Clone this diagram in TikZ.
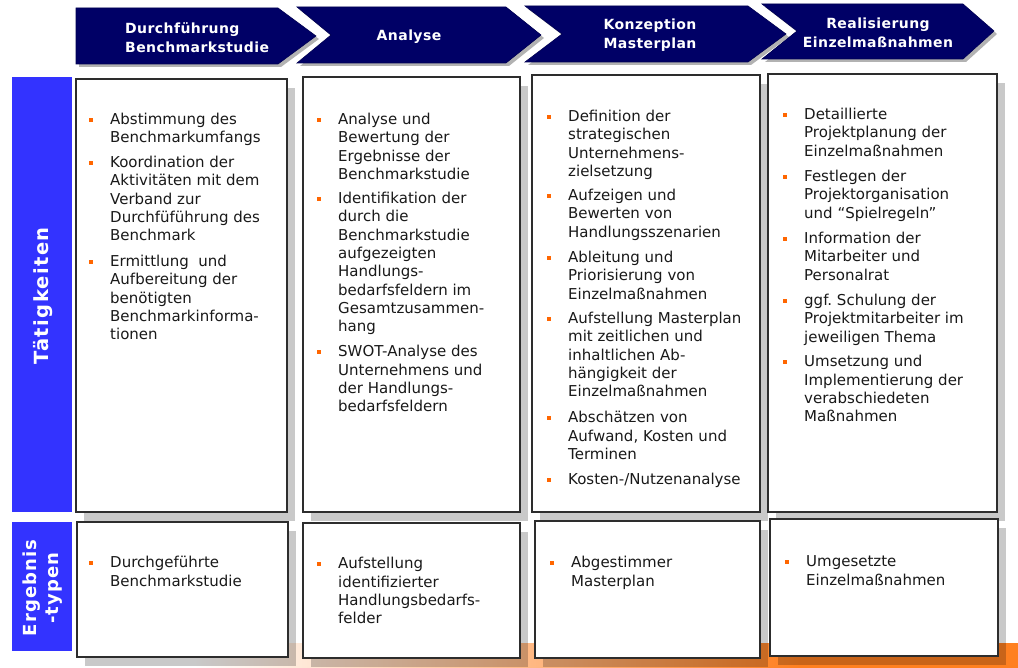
\documentclass[tikz,border=0pt]{standalone}
\usepackage{fontspec}
\setmainfont{DejaVu Sans}
\usetikzlibrary{shadows}
\definecolor{navy}{RGB}{0,0,102}
\definecolor{sideblue}{RGB}{51,51,255}
\definecolor{bul}{RGB}{255,102,0}
\definecolor{band}{RGB}{255,128,32}
\definecolor{boxline}{RGB}{45,45,45}
\newcommand\bl{\rule{0pt}{13pt}\llap{\textcolor{bul}{\rule[3pt]{4pt}{4pt}}\hspace{17pt}}}
\tikzset{
 box/.style={draw=boxline, line width=1.3pt, fill=white, anchor=north west, inner sep=0pt, outer sep=0pt,
   drop shadow={shadow xshift=8pt, shadow yshift=-9pt, fill=black, opacity=0.21, draw=none}},
 item/.style={anchor=north west, inner sep=0pt, align=left, text=black!90,
   font=\fontsize{15}{18.3}\selectfont},
 chev/.style={fill=navy, draw=navy!80!black, line width=0.6pt},
 chevshadow/.style={fill=black, opacity=0.3},
 head/.style={text=white, inner sep=0pt,
   font=\fontsize{14}{18.5}\selectfont\bfseries\addfontfeature{LetterSpace=3}},
 side/.style={fill=sideblue, draw=none, anchor=north west, inner sep=0pt, outer sep=0pt},
 sidetext/.style={text=white, rotate=90, inner sep=0pt, align=center},
}
\begin{document}
\begin{tikzpicture}[x=1pt,y=-1pt]
\useasboundingbox (0,0) rectangle (1018,668);
\fill[white] (0,0) rectangle (1018,668);
% bottom band
\shade[left color=white, right color=band, shading angle=90] (194,643) rectangle (800,668);
\fill[band] (799,643) rectangle (1018,668);
% chevron shadows
\begin{scope}[shift={(3,3)}]
\fill[chevshadow] (76,8) -- (278,8) -- (316,36) -- (278,64) -- (76,64) -- cycle;
\fill[chevshadow] (297,7) -- (506,7) -- (541,35) -- (506,63) -- (297,63) -- (331,35) -- cycle;
\fill[chevshadow] (525,6) -- (748,6) -- (786,34) -- (748,62) -- (525,62) -- (562,34) -- cycle;
\fill[chevshadow] (762,4) -- (963,4) -- (994,31) -- (963,59) -- (762,59) -- (797,31) -- cycle;
\end{scope}
% chevrons
\filldraw[chev] (76,8) -- (278,8) -- (316,36) -- (278,64) -- (76,64) -- cycle;
\filldraw[chev] (297,7) -- (506,7) -- (541,35) -- (506,63) -- (297,63) -- (331,35) -- cycle;
\filldraw[chev] (525,6) -- (748,6) -- (786,34) -- (748,62) -- (525,62) -- (562,34) -- cycle;
\filldraw[chev] (762,4) -- (963,4) -- (994,31) -- (963,59) -- (762,59) -- (797,31) -- cycle;
\node[head, align=left, anchor=west] (h1) at (125,37.5) {Durchführung\\Benchmarkstudie};
\node[head] (h2) at (409,37) {Analyse};
\node[head, align=center] (h3) at (650,35) {Konzeption\\Masterplan};
\node[head, align=center] (h4) at (878,33) {Realisierung\\Einzelmaßnahmen};
% side bars
\node[side, minimum width=60pt, minimum height=435pt] (sb1) at (12,77) {};
\node[side, minimum width=60pt, minimum height=129pt] (sb2) at (12,522) {};
\node[sidetext, font=\fontsize{19.5}{22}\selectfont\bfseries\addfontfeature{LetterSpace=7}] (st1) at (43,296) {Tätigkeiten};
\node[sidetext, font=\fontsize{18}{22}\selectfont\bfseries\addfontfeature{LetterSpace=6}] (st2) at (43,588) {Ergebnis\\-typen};
% boxes top row
\node[box, minimum width=211pt, minimum height=433pt] (t1) at (76,79) {};
\node[box, minimum width=217pt, minimum height=435pt] (t2) at (303,77) {};
\node[box, minimum width=228pt, minimum height=437pt] (t3) at (532,75) {};
\node[box, minimum width=229pt, minimum height=438pt] (t4) at (768,74) {};
% boxes bottom row
\node[box, minimum width=211pt, minimum height=135pt] (r1) at (77,522) {};
\node[box, minimum width=217pt, minimum height=135pt] (r2) at (303,523) {};
\node[box, minimum width=225pt, minimum height=137pt] (r3) at (535,521) {};
\node[box, minimum width=228pt, minimum height=137pt] (r4) at (770,519) {};
% column 1
\node[item] (a1) at (110,111.5) {\bl Abstimmung des\\Benchmarkumfangs};
\node[item] (a2) at (110,154.5) {\bl Koordination der\\Aktivitäten mit dem\\Verband zur\\Durchfüführung des\\Benchmark};
\node[item] (a3) at (110,253.5) {\bl Ermittlung\ \ und\\Aufbereitung der\\benötigten\\Benchmarkinforma-\\tionen};
% column 2
\node[item] (b1) at (338,111.5) {\bl Analyse und\\Bewertung der\\Ergebnisse der\\Benchmarkstudie};
\node[item] (b2) at (338,190.5) {\bl Identifikation der\\durch die\\Benchmarkstudie\\aufgezeigten\\Handlungs-\\bedarfsfeldern im\\Gesamtzusammen-\\hang};
\node[item] (b3) at (338,343.5) {\bl SWOT-Analyse des\\Unternehmens und\\der Handlungs-\\bedarfsfeldern};
% column 3
\node[item] (c1) at (568,108.5) {\bl Definition der\\strategischen\\Unternehmens-\\zielsetzung};
\node[item] (c2) at (568,187.5) {\bl Aufzeigen und\\Bewerten von\\Handlungsszenarien};
\node[item] (c3) at (568,249.5) {\bl Ableitung und\\Priorisierung von\\Einzelmaßnahmen};
\node[item] (c4) at (568,310.5) {\bl Aufstellung Masterplan\\mit zeitlichen und\\inhaltlichen Ab-\\hängigkeit der\\Einzelmaßnahmen};
\node[item] (c5) at (568,409.5) {\bl Abschätzen von\\Aufwand, Kosten und\\Terminen};
\node[item] (c6) at (568,471.5) {\bl Kosten-/Nutzenanalyse};
% column 4
\node[item] (d1) at (804,106.5) {\bl Detaillierte\\Projektplanung der\\Einzelmaßnahmen};
\node[item] (d2) at (804,168.5) {\bl Festlegen der\\Projektorganisation\\und “Spielregeln”};
\node[item] (d3) at (804,230.5) {\bl Information der\\Mitarbeiter und\\Personalrat};
\node[item] (d4) at (804,292.5) {\bl ggf.\ Schulung der\\Projektmitarbeiter im\\jeweiligen Thema};
\node[item] (d5) at (804,353.5) {\bl Umsetzung und\\Implementierung der\\verabschiedeten\\Maßnahmen};
% bottom row texts
\node[item] (e1) at (110,554.5) {\bl Durchgeführte\\Benchmarkstudie};
\node[item] (e2) at (338,555.5) {\bl Aufstellung\\identifizierter\\Handlungsbedarfs-\\felder};
\node[item] (e3) at (571,554.5) {\bl Abgestimmer\\Masterplan};
\node[item] (e4) at (806,553.5) {\bl Umgesetzte\\Einzelmaßnahmen};
\end{tikzpicture}
\end{document}
